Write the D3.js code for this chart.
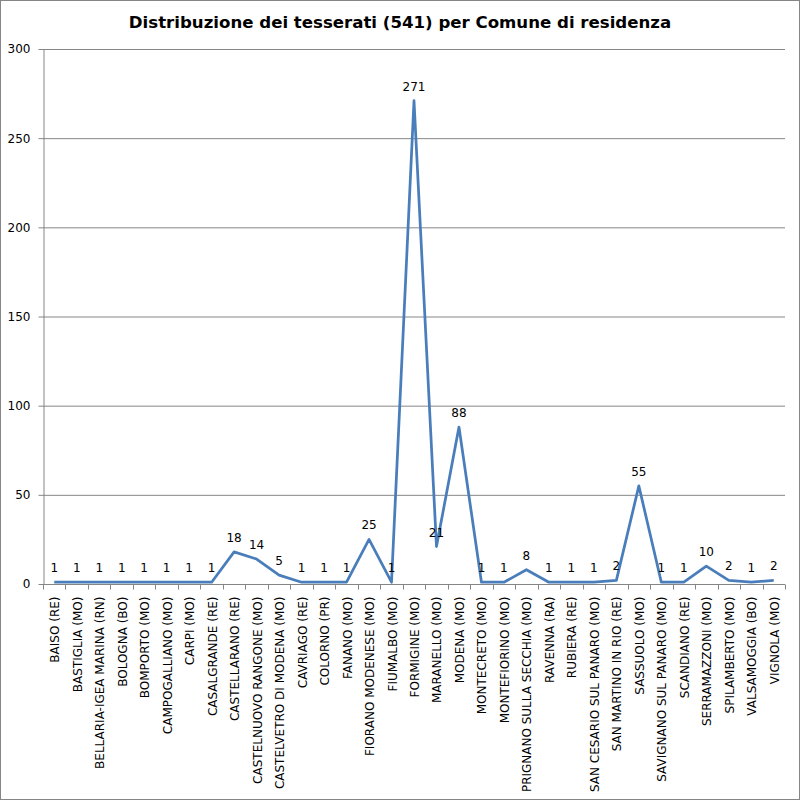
<!DOCTYPE html>
<html>
<head>
<meta charset="utf-8">
<script src="https://cdn.jsdelivr.net/npm/d3@7"></script>
<style>
  body { margin: 0; background: #fff; }
  svg { display: block; }
  text { font-family: "DejaVu Sans", Verdana, sans-serif; fill: #000; }
  .grid line { stroke: #868686; stroke-width: 1; }
  .axis path, .axis line { stroke: #868686; }
</style>
</head>
<body>
<div id="chart"></div>
<script>
const categories = [
    'BAISO (RE)', 'BASTIGLIA (MO)', 'BELLARIA-IGEA MARINA (RN)', 'BOLOGNA (BO)',
    'BOMPORTO (MO)', 'CAMPOGALLIANO (MO)', 'CARPI (MO)', 'CASALGRANDE (RE)',
    'CASTELLARANO (RE)', 'CASTELNUOVO RANGONE (MO)', 'CASTELVETRO DI MODENA (MO)',
    'CAVRIAGO (RE)', 'COLORNO (PR)', 'FANANO (MO)', 'FIORANO MODENESE (MO)',
    'FIUMALBO (MO)', 'FORMIGINE (MO)', 'MARANELLO (MO)', 'MODENA (MO)',
    'MONTECRETO (MO)', 'MONTEFIORINO (MO)', 'PRIGNANO SULLA SECCHIA (MO)',
    'RAVENNA (RA)', 'RUBIERA (RE)', 'SAN CESARIO SUL PANARO (MO)',
    'SAN MARTINO IN RIO (RE)', 'SASSUOLO (MO)', 'SAVIGNANO SUL PANARO (MO)',
    'SCANDIANO (RE)', 'SERRAMAZZONI (MO)', 'SPILAMBERTO (MO)', 'VALSAMOGGIA (BO)',
    'VIGNOLA (MO)'
];
const tesserati = [
    1, 1, 1, 1, 1, 1, 1, 1, 18, 14, 5, 1, 1, 1, 25, 1, 271, 21, 88,
    1, 1, 8, 1, 1, 1, 2, 55, 1, 1, 10, 2, 1, 2
];
const yTicks = [0, 50, 100, 150, 200, 250, 300];
const title = 'Distribuzione dei tesserati (541) per Comune di residenza';

const W = 800, H = 800;
const margin = { top: 49, right: 15, bottom: 216, left: 43 };
const width = W - margin.left - margin.right;
const height = H - margin.top - margin.bottom;

const svg = d3.select('#chart').append('svg').attr('width', W).attr('height', H);

svg.append('rect')
    .attr('x', 0.5).attr('y', 0.5).attr('width', W - 1).attr('height', H - 1)
    .attr('fill', '#fff').attr('stroke', '#868686');

svg.append('text')
    .attr('x', W / 2).attr('y', 28)
    .attr('text-anchor', 'middle')
    .style('font-size', '16.6px').style('font-weight', 'bold')
    .text(title);

const g = svg.append('g').attr('transform', `translate(${margin.left}, ${margin.top})`);

const x = d3.scaleBand().domain(categories).range([0, width]);
const y = d3.scaleLinear().domain([0, 300]).range([height, 0]);

// gridlines
g.append('g').attr('class', 'grid')
    .selectAll('line')
    .data(yTicks.slice(1))
    .enter().append('line')
    .attr('x1', 0).attr('x2', width)
    .attr('y1', d => y(d) + 0.5).attr('y2', d => y(d) + 0.5);

// y axis
const yAxis = g.append('g').attr('class', 'axis')
    .attr('transform', 'translate(0.5, 0)')
    .call(d3.axisLeft(y).tickValues(yTicks).tickSize(5).tickSizeOuter(0).tickPadding(8));
yAxis.selectAll('text').style('font-size', '12px');

// x axis: ticks at band boundaries
const xAxis = g.append('g').attr('class', 'axis')
    .attr('transform', `translate(0, ${height + 0.5})`);
xAxis.append('line').attr('x1', 0).attr('x2', width).attr('stroke', '#868686');
xAxis.selectAll('.tick')
    .data(categories.concat([null]))
    .enter().append('line')
    .attr('x1', (d, i) => Math.round(i * x.bandwidth()) + 0.5)
    .attr('x2', (d, i) => Math.round(i * x.bandwidth()) + 0.5)
    .attr('y1', 0).attr('y2', 5)
    .attr('stroke', '#868686');
xAxis.selectAll('.lbl')
    .data(categories)
    .enter().append('text')
    .attr('transform', d => `translate(${x(d) + x.bandwidth() / 2 + 5}, 12) rotate(-90)`)
    .attr('text-anchor', 'end')
    .style('font-size', '12px')
    .text(d => d);

// line
const line = d3.line()
    .x((d, i) => x(categories[i]) + x.bandwidth() / 2)
    .y(d => y(d));

g.append('path')
    .datum(tesserati)
    .attr('fill', 'none')
    .attr('stroke', '#4a7ebb')
    .attr('stroke-width', 2.75)
    .attr('stroke-linejoin', 'round')
    .attr('d', line);

// data labels
g.selectAll('.val')
    .data(tesserati)
    .enter().append('text')
    .attr('x', (d, i) => x(categories[i]) + x.bandwidth() / 2)
    .attr('y', d => y(d) - 10)
    .attr('text-anchor', 'middle')
    .style('font-size', '12px')
    .text(d => d);
</script>
</body>
</html>
